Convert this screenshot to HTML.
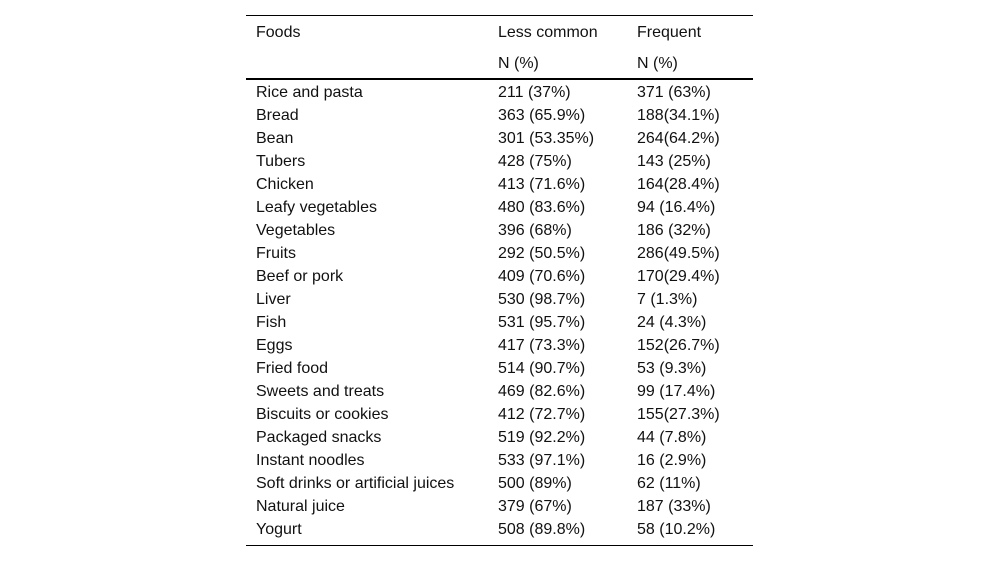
<!DOCTYPE html>
<html>
<head>
<meta charset="utf-8">
<style>
html,body{margin:0;padding:0;background:#fff;width:1000px;height:561px;overflow:hidden}
body{position:relative;font-family:"Liberation Sans",Arial,sans-serif;font-size:16px;color:#111}
table{position:absolute;left:246px;top:15px;width:507px;border-collapse:separate;border-spacing:0;table-layout:fixed;border-top:1px solid #000;border-bottom:1px solid #000}
col.c1{width:242px}col.c2{width:139px}col.c3{width:126px}
th,td{padding:2px 0 0 10px;text-align:left;font-weight:normal;white-space:nowrap;vertical-align:top}
thead th{height:29px;line-height:29px}
thead tr:last-child th{border-bottom:2px solid #000}
tbody td{height:21px;line-height:21px}
tbody tr:last-child td{padding-bottom:5px}
</style>
</head>
<body>
<table>
<colgroup><col class="c1"><col class="c2"><col class="c3"></colgroup>
<thead>
<tr><th>Foods</th><th>Less common</th><th>Frequent</th></tr>
<tr><th></th><th>N (%)</th><th>N (%)</th></tr>
</thead>
<tbody>
<tr><td>Rice and pasta</td><td>211 (37%)</td><td>371 (63%)</td></tr>
<tr><td>Bread</td><td>363 (65.9%)</td><td>188(34.1%)</td></tr>
<tr><td>Bean</td><td>301 (53.35%)</td><td>264(64.2%)</td></tr>
<tr><td>Tubers</td><td>428 (75%)</td><td>143 (25%)</td></tr>
<tr><td>Chicken</td><td>413 (71.6%)</td><td>164(28.4%)</td></tr>
<tr><td>Leafy vegetables</td><td>480 (83.6%)</td><td>94 (16.4%)</td></tr>
<tr><td>Vegetables</td><td>396 (68%)</td><td>186 (32%)</td></tr>
<tr><td>Fruits</td><td>292 (50.5%)</td><td>286(49.5%)</td></tr>
<tr><td>Beef or pork</td><td>409 (70.6%)</td><td>170(29.4%)</td></tr>
<tr><td>Liver</td><td>530 (98.7%)</td><td>7 (1.3%)</td></tr>
<tr><td>Fish</td><td>531 (95.7%)</td><td>24 (4.3%)</td></tr>
<tr><td>Eggs</td><td>417 (73.3%)</td><td>152(26.7%)</td></tr>
<tr><td>Fried food</td><td>514 (90.7%)</td><td>53 (9.3%)</td></tr>
<tr><td>Sweets and treats</td><td>469 (82.6%)</td><td>99 (17.4%)</td></tr>
<tr><td>Biscuits or cookies</td><td>412 (72.7%)</td><td>155(27.3%)</td></tr>
<tr><td>Packaged snacks</td><td>519 (92.2%)</td><td>44 (7.8%)</td></tr>
<tr><td>Instant noodles</td><td>533 (97.1%)</td><td>16 (2.9%)</td></tr>
<tr><td>Soft drinks or artificial juices</td><td>500 (89%)</td><td>62 (11%)</td></tr>
<tr><td>Natural juice</td><td>379 (67%)</td><td>187 (33%)</td></tr>
<tr><td>Yogurt</td><td>508 (89.8%)</td><td>58 (10.2%)</td></tr>
</tbody>
</table>
</body>
</html>
